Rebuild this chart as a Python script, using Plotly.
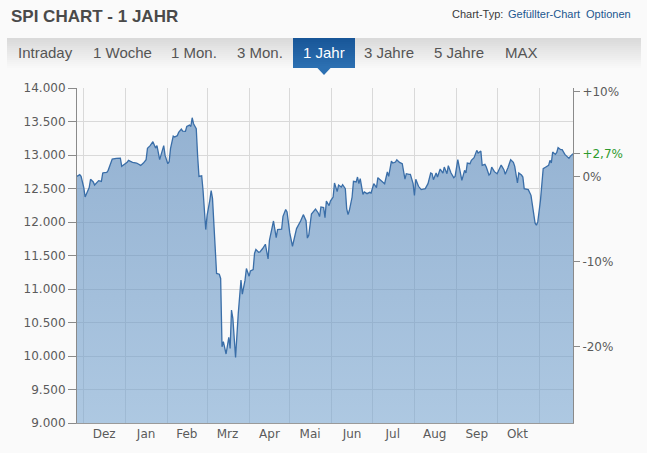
import plotly.graph_objects as go

# ---------------- data ----------------
dates = [
    "2019-11-26", "2019-11-28", "2019-11-29",
    "2019-12-01", "2019-12-02", "2019-12-04", "2019-12-05", "2019-12-06", "2019-12-08", "2019-12-09",
    "2019-12-11", "2019-12-12", "2019-12-14", "2019-12-15", "2019-12-16", "2019-12-18", "2019-12-19",
    "2019-12-21", "2019-12-22", "2019-12-25", "2019-12-28", "2019-12-29", "2019-12-31",
    "2020-01-02", "2020-01-03", "2020-01-05", "2020-01-06", "2020-01-09", "2020-01-12", "2020-01-14",
    "2020-01-16", "2020-01-17", "2020-01-19", "2020-01-21", "2020-01-23", "2020-01-24", "2020-01-26",
    "2020-01-29", "2020-01-30",
    "2020-02-01", "2020-02-02", "2020-02-03", "2020-02-05", "2020-02-06", "2020-02-08", "2020-02-09",
    "2020-02-11", "2020-02-12", "2020-02-14", "2020-02-15", "2020-02-17", "2020-02-18", "2020-02-19",
    "2020-02-20", "2020-02-22", "2020-02-23", "2020-02-24", "2020-02-26", "2020-02-27", "2020-02-29",
    "2020-03-01", "2020-03-03", "2020-03-04", "2020-03-05", "2020-03-08", "2020-03-10", "2020-03-11",
    "2020-03-12", "2020-03-13", "2020-03-15", "2020-03-17", "2020-03-18", "2020-03-19", "2020-03-20",
    "2020-03-22", "2020-03-24", "2020-03-25", "2020-03-26", "2020-03-27", "2020-03-29", "2020-03-30",
    "2020-04-01", "2020-04-02", "2020-04-04", "2020-04-05", "2020-04-06", "2020-04-08", "2020-04-09",
    "2020-04-11", "2020-04-13", "2020-04-15", "2020-04-16", "2020-04-19", "2020-04-21", "2020-04-22",
    "2020-04-25", "2020-04-26", "2020-04-28", "2020-04-29",
    "2020-05-01", "2020-05-03", "2020-05-05", "2020-05-06", "2020-05-09", "2020-05-11", "2020-05-13",
    "2020-05-14", "2020-05-15", "2020-05-17", "2020-05-20", "2020-05-22", "2020-05-23", "2020-05-24",
    "2020-05-26", "2020-05-27", "2020-05-28", "2020-05-30", "2020-05-31",
    "2020-06-02", "2020-06-03", "2020-06-05", "2020-06-06", "2020-06-08", "2020-06-09", "2020-06-11",
    "2020-06-12", "2020-06-13", "2020-06-14", "2020-06-16", "2020-06-17", "2020-06-19", "2020-06-20",
    "2020-06-21", "2020-06-22", "2020-06-24", "2020-06-25", "2020-06-27", "2020-06-29", "2020-06-30",
    "2020-07-02", "2020-07-04", "2020-07-05", "2020-07-07", "2020-07-10", "2020-07-12", "2020-07-13",
    "2020-07-15", "2020-07-16", "2020-07-18", "2020-07-19", "2020-07-21", "2020-07-23", "2020-07-25",
    "2020-07-26", "2020-07-28", "2020-07-29", "2020-07-31",
    "2020-08-01", "2020-08-02", "2020-08-04", "2020-08-06", "2020-08-09", "2020-08-11", "2020-08-13",
    "2020-08-14", "2020-08-15", "2020-08-17", "2020-08-18", "2020-08-20", "2020-08-22", "2020-08-23",
    "2020-08-25", "2020-08-26", "2020-08-28", "2020-08-30", "2020-08-31",
    "2020-09-02", "2020-09-04", "2020-09-05", "2020-09-07", "2020-09-08", "2020-09-09", "2020-09-11",
    "2020-09-12", "2020-09-14", "2020-09-16", "2020-09-17", "2020-09-19", "2020-09-20", "2020-09-22",
    "2020-09-23", "2020-09-25", "2020-09-26", "2020-09-27", "2020-09-29",
    "2020-10-01", "2020-10-02", "2020-10-04", "2020-10-06", "2020-10-07", "2020-10-09", "2020-10-11",
    "2020-10-13", "2020-10-14", "2020-10-16", "2020-10-17", "2020-10-19", "2020-10-20", "2020-10-21",
    "2020-10-23", "2020-10-24", "2020-10-26", "2020-10-27", "2020-10-29", "2020-10-30", "2020-10-31",
    "2020-11-02", "2020-11-03", "2020-11-04", "2020-11-06", "2020-11-08", "2020-11-09", "2020-11-10",
    "2020-11-11", "2020-11-13", "2020-11-14", "2020-11-15", "2020-11-17", "2020-11-18", "2020-11-20",
    "2020-11-21", "2020-11-23", "2020-11-24", "2020-11-26",
]
values = [
    12681, 12707, 12681,
    12513, 12373, 12483, 12513, 12637, 12597, 12552,
    12587, 12617, 12607, 12731, 12736, 12741, 12771,
    12870, 12939, 12950, 12954, 12830, 12860,
    12890, 12920, 12900, 12890, 12880, 12845, 12880,
    12930, 13099, 13139, 13198, 13103, 13139, 12930,
    13139, 12994,
    12870, 12900, 13094, 13282, 13267, 13288, 13337,
    13386, 13356, 13352, 13426, 13446, 13426, 13556,
    13467, 13392, 12990, 12681, 12690, 12473, 11887,
    12100, 12324, 12470, 12349, 11232, 11221, 11157,
    10138, 10213, 10030, 10278, 10114, 10685, 10561,
    9980, 10636, 10934, 11132, 10923, 11132, 11306,
    11191, 11271, 11291, 11530, 11589, 11549, 11554,
    11604, 11668, 11449, 11728, 12015, 11768, 11887,
    11892, 12085, 12185, 12150,
    11837, 11638, 11787, 11902, 12015, 12110, 12020,
    11760, 11802, 12120, 12192, 12135, 12080, 12224,
    12215, 12066, 12313, 12245, 12313,
    12373, 12582, 12453, 12552, 12522, 12557, 12498,
    12200, 12110, 12175, 12373, 12607, 12597, 12671,
    12572, 12647, 12413, 12448, 12423, 12443, 12433,
    12572, 12513, 12662, 12622, 12572, 12746, 12681,
    12910, 12880, 12895, 12930, 12890, 12870, 12641,
    12721, 12711, 12711, 12572,
    12398, 12637, 12533, 12483, 12498, 12572, 12731,
    12721, 12632, 12731, 12671, 12790, 12731, 12820,
    12721, 12840, 12731, 12662, 12681,
    12930, 12740, 12622, 12771, 12731, 12880, 12870,
    12920, 12960, 13069, 13029, 13059, 12845, 12860,
    12820, 12701, 12721, 12820, 12751,
    12721, 12771, 12850, 12781, 12711, 12811, 12930,
    12890, 12830, 12582, 12731, 12701, 12671, 12498,
    12493, 12483, 12398, 12274, 11986, 11951, 12001,
    12324, 12622, 12796, 12820, 12845, 12920, 12880,
    13044, 13009, 13039, 13109, 13079, 13079, 13009,
    12990, 12950, 12979, 13020,
]

month_starts = ["2019-12-01", "2020-01-01", "2020-02-01", "2020-03-01", "2020-04-01", "2020-05-01",
                "2020-06-01", "2020-07-01", "2020-08-01", "2020-09-01", "2020-10-01", "2020-11-01"]
month_label_dates = ["2019-12-16", "2020-01-16", "2020-02-15", "2020-03-16", "2020-04-16", "2020-05-16",
                     "2020-06-16", "2020-07-16", "2020-08-16", "2020-09-16", "2020-10-16"]
month_labels = ["Dez", "Jan", "Feb", "Mrz", "Apr", "Mai", "Jun", "Jul", "Aug", "Sep", "Okt"]
y_ticks = [9000, 9500, 10000, 10500, 11000, 11500, 12000, 12500, 13000, 13500, 14000]
pct_ticks = [0.10, 0.0, -0.10, -0.20]
tabs = ["Intraday", "1 Woche", "1 Mon.", "3 Mon.", "1 Jahr", "3 Jahre", "5 Jahre", "MAX"]
active_tab = "1 Jahr"

# ---------------- layout geometry ----------------
W, H = 647, 453
L, R, T, B = 77, 74, 88, 30
PW, PH = W - L - R, H - T - B
BG = "#fafafa"


def xp(px):
    return (px - L) / PW


def yp(py):
    return (H - B - py) / PH


base = values[0]
last_pct = values[-1] / base - 1
pct_vals = [base * (1 + p) for p in pct_ticks]
pct_text = [("+" if p > 0 else ("-" if p < 0 else "")) + f"{abs(p)*100:.0f}%" for p in pct_ticks]
pct_vals.append(values[-1])
pct_text.append("<span style='color:#2e9a2e'>" + f"{last_pct*100:+.1f}%".replace(".", ",") + "</span>")

FONT_AX = "DejaVu Sans, Verdana, sans-serif"
FONT_HD = "Liberation Sans, Arial, sans-serif"
AX_TXT = "#5b5b5b"

fig = go.Figure()
fig.add_trace(go.Scatter(
    x=dates, y=values, mode="lines",
    line=dict(color="#3a6ea8", width=1.3),
    fill="tozeroy",
    fillgradient=dict(type="vertical",
                      colorscale=[[0, "rgba(118,164,208,0.58)"], [1, "rgba(70,122,178,0.58)"]],
                      start=9000, stop=14000),
    hoverinfo="x+y", showlegend=False,
))
fig.add_trace(go.Scatter(
    x=[dates[0]], y=[values[0]], yaxis="y2", mode="markers",
    marker=dict(opacity=0), hoverinfo="skip", showlegend=False,
))

shapes = []
# tab bar gradient
n_bands = 15
top_c, bot_c = (218, 218, 218), (248, 248, 248)
for i in range(n_bands):
    t = i / (n_bands - 1)
    c = tuple(round(top_c[k] + (bot_c[k] - top_c[k]) * t) for k in range(3))
    y0 = 38 + i * 2
    shapes.append(dict(type="rect", xref="paper", yref="paper",
                       x0=xp(7), x1=xp(641), y0=yp(y0 + 2), y1=yp(y0),
                       fillcolor=f"rgb{c}", line=dict(width=0), layer="below"))
# active tab
act_top, act_bot = (24, 86, 152), (44, 112, 178)
for i in range(n_bands):
    t = i / (n_bands - 1)
    c = tuple(round(act_top[k] + (act_bot[k] - act_top[k]) * t) for k in range(3))
    y0 = 38 + i * 2
    shapes.append(dict(type="rect", xref="paper", yref="paper",
                       x0=xp(293), x1=xp(355), y0=yp(y0 + 2), y1=yp(y0),
                       fillcolor=f"rgb{c}", line=dict(width=0), layer="below"))
shapes.append(dict(type="path", xref="paper", yref="paper",
                   path=f"M {xp(317)} {yp(67.5)} L {xp(331)} {yp(67.5)} L {xp(324)} {yp(75)} Z",
                   fillcolor="rgb(44,112,178)", line=dict(width=0), layer="below"))

annotations = [
    dict(text="<b>SPI CHART - 1 JAHR</b>", x=xp(9), y=yp(16), xref="paper", yref="paper",
         xanchor="left", yanchor="middle", showarrow=False,
         font=dict(family=FONT_HD, size=17, color="#4a4a4a")),
    dict(text="Chart-Typ:", x=xp(450), y=yp(13.5), xref="paper", yref="paper",
         xanchor="left", yanchor="middle", showarrow=False,
         font=dict(family=FONT_HD, size=11, color="#3a3a3a")),
    dict(text="Gefüllter-Chart", x=xp(506), y=yp(13.5), xref="paper", yref="paper",
         xanchor="left", yanchor="middle", showarrow=False,
         font=dict(family=FONT_HD, size=11, color="#22578f")),
    dict(text="Optionen", x=xp(632.5), y=yp(13.5), xref="paper", yref="paper",
         xanchor="right", yanchor="middle", showarrow=False,
         font=dict(family=FONT_HD, size=11, color="#22578f")),
]
tab_centers_px = [45, 122, 194, 260, 324, 389, 459, 521]
for name, cx in zip(tabs, tab_centers_px):
    annotations.append(dict(
        text=name, x=xp(cx), y=yp(53), xref="paper", yref="paper",
        xanchor="center", yanchor="middle", showarrow=False,
        font=dict(family=FONT_HD, size=15, color="#ffffff" if name == active_tab else "#555555")))

fig.update_layout(
    width=W, height=H,
    margin=dict(l=L, r=R, t=T, b=B, pad=0),
    paper_bgcolor=BG, plot_bgcolor=BG,
    separators=",.",
    showlegend=False,
    shapes=shapes, annotations=annotations,
    xaxis=dict(
        type="date", range=[dates[0], dates[-1]],
        tickmode="array", tickvals=month_label_dates, ticktext=month_labels,
        ticks="", showgrid=False,
        minor=dict(tickmode="array", tickvals=month_starts, showgrid=True,
                   gridcolor="#d9d9d9", gridwidth=1, ticks=""),
        showline=True, linecolor="#9a9a9a", linewidth=1,
        tickfont=dict(family=FONT_AX, size=12, color=AX_TXT),
        zeroline=False, fixedrange=True,
    ),
    yaxis=dict(
        range=[9000, 14000], tickmode="array", tickvals=y_ticks, tickformat=",.0f",
        ticks="outside", ticklen=8, tickcolor="#8a8a8a", tickwidth=1,
        showgrid=True, gridcolor="#d9d9d9", gridwidth=1,
        showline=True, linecolor="#8a8a8a", linewidth=1,
        tickfont=dict(family=FONT_AX, size=12, color=AX_TXT),
        zeroline=False, fixedrange=True,
    ),
    yaxis2=dict(
        range=[9000, 14000], overlaying="y", side="right",
        tickmode="array", tickvals=pct_vals, ticktext=pct_text,
        ticks="outside", ticklen=6, tickcolor="#8a8a8a", tickwidth=1,
        showgrid=False, showline=True, linecolor="#8a8a8a", linewidth=1,
        tickfont=dict(family=FONT_AX, size=12, color=AX_TXT),
        zeroline=False, fixedrange=True,
    ),
)

page_style = ("document.documentElement.style.margin='0';document.body.style.margin='0';"
              f"document.body.style.background='{BG}';document.body.style.overflow='hidden';")
fig.write_html("out.html", post_script=page_style, config={"displayModeBar": False})
